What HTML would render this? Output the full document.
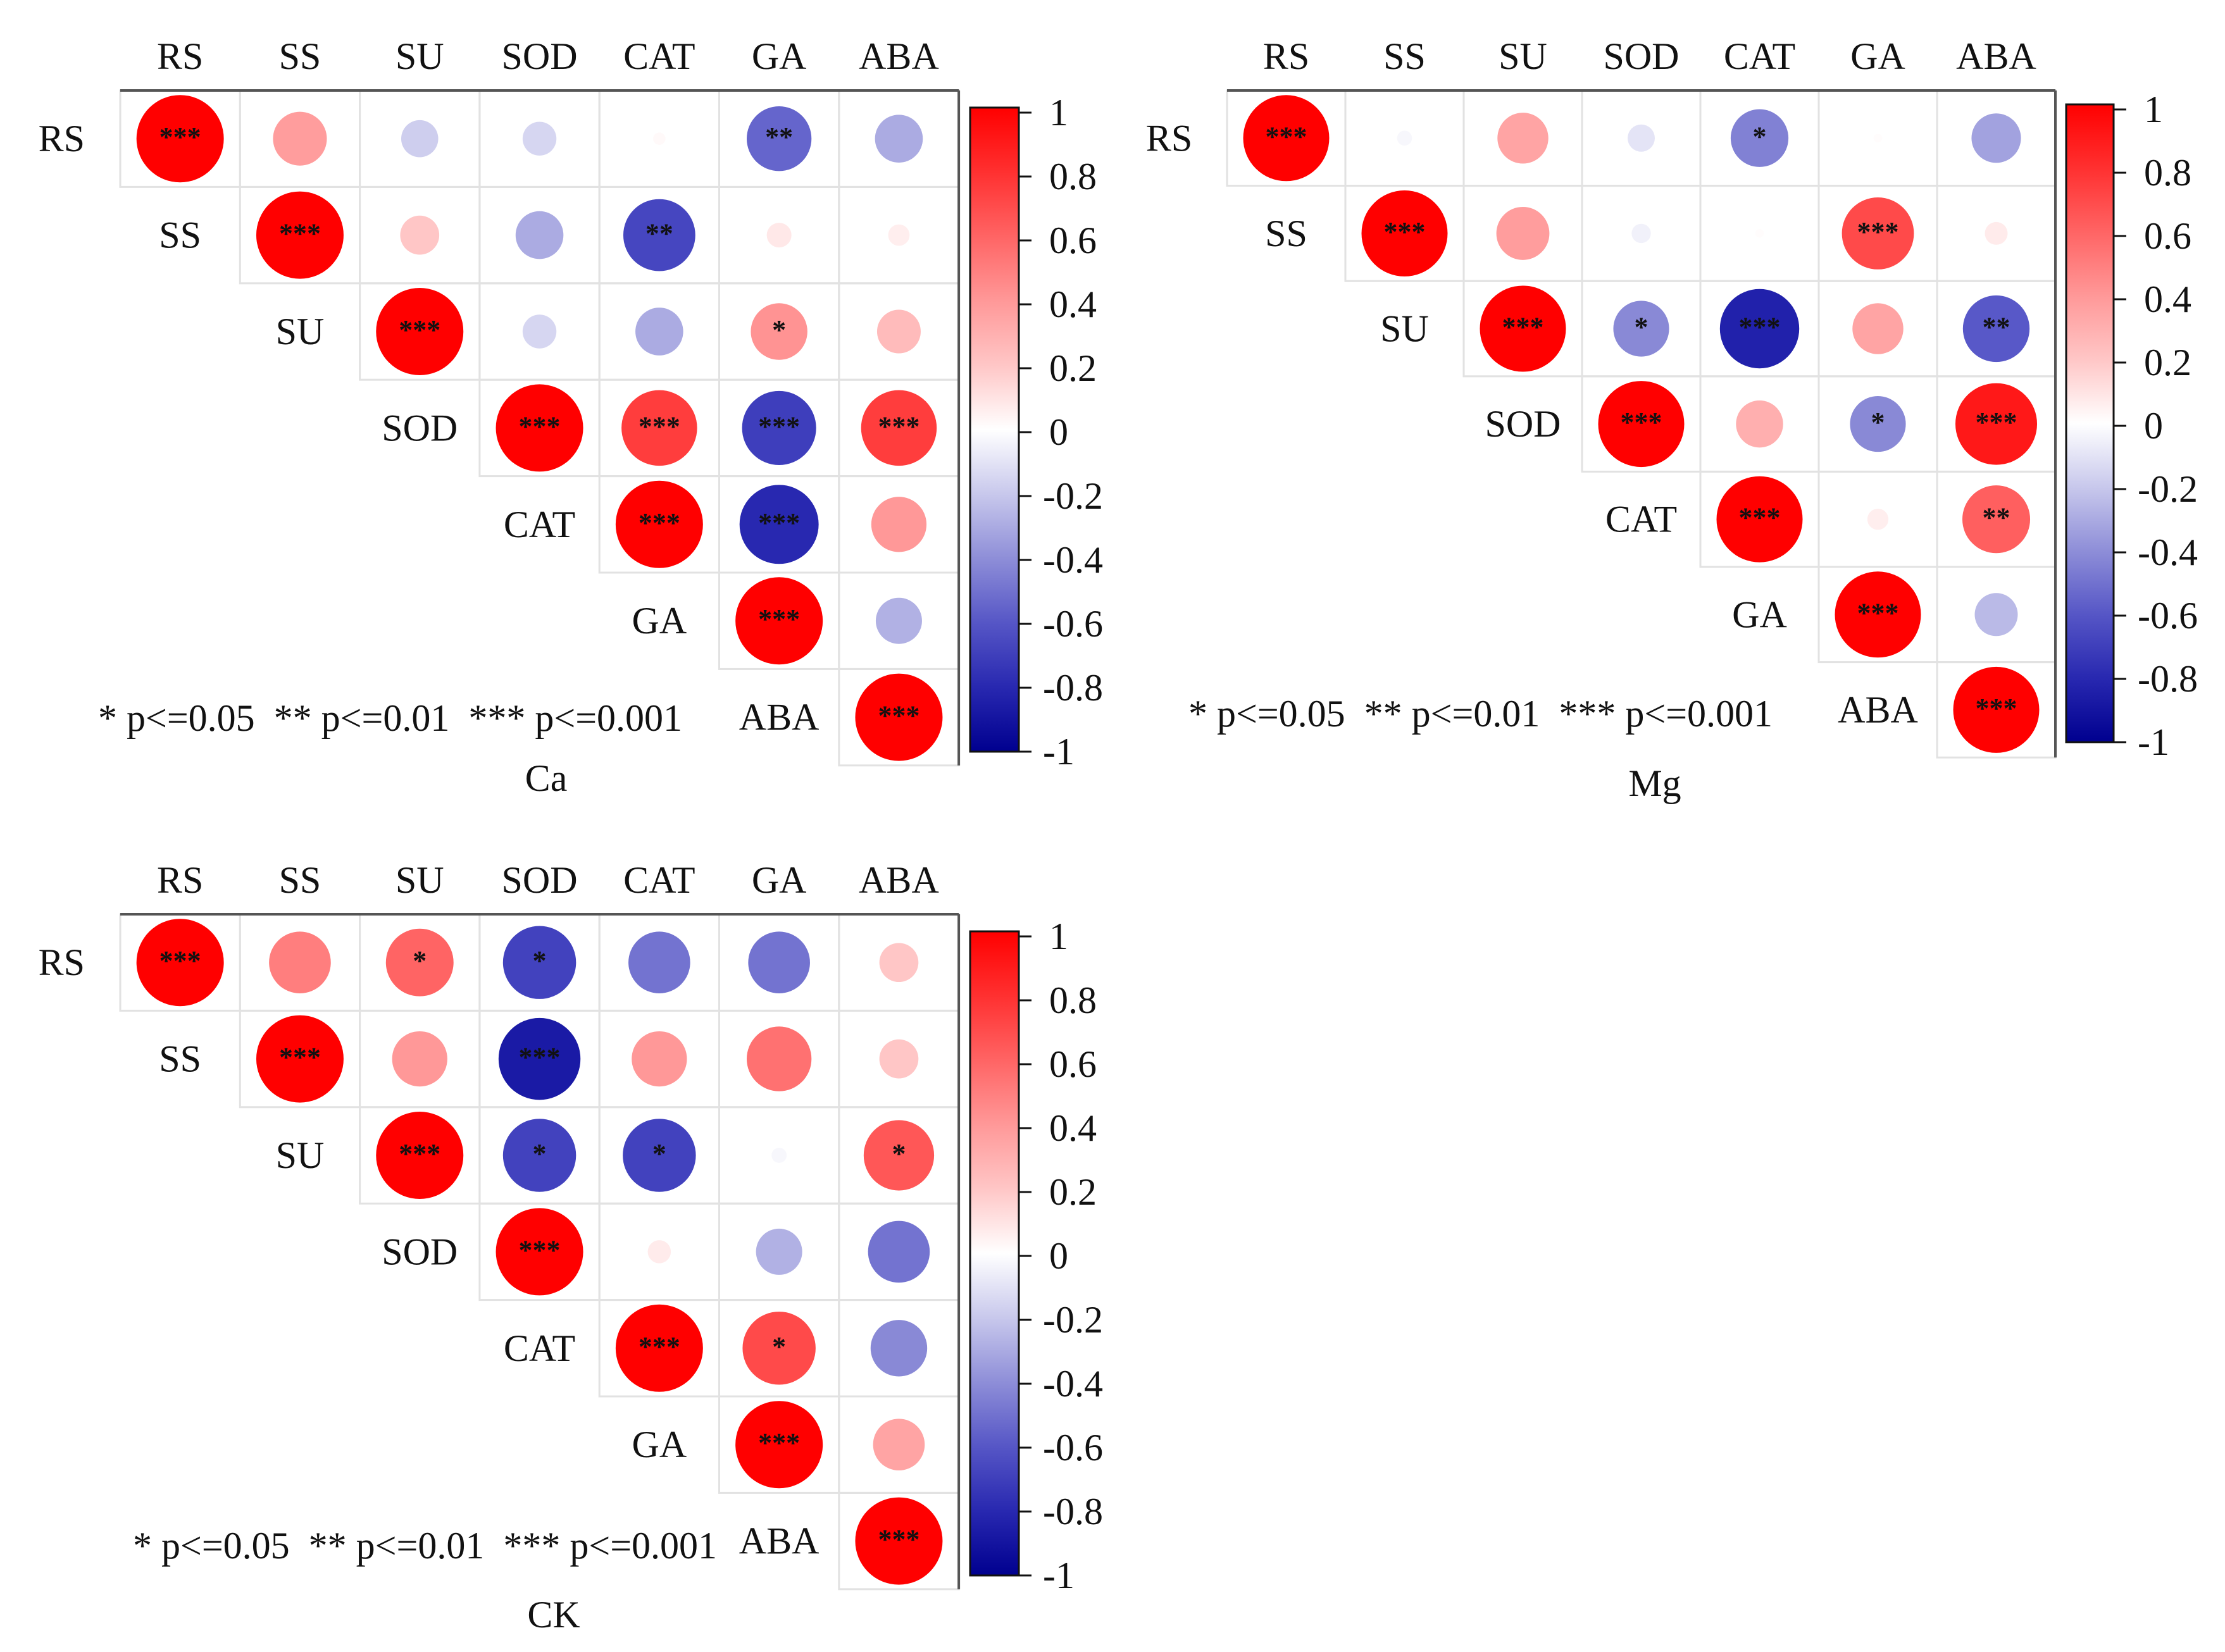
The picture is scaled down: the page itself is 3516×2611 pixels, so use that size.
<!DOCTYPE html>
<html><head><meta charset="utf-8"><style>
html,body{margin:0;padding:0;background:#fff}
svg{display:block}
text{font-family:"Liberation Serif",serif;fill:#111;white-space:pre}
</style></head><body>
<svg id="fig" width="3516" height="2611" viewBox="0 0 3516 2611" xmlns="http://www.w3.org/2000/svg">
<defs>
<linearGradient id="cbar" x1="0" y1="1" x2="0" y2="0">
<stop offset="0" stop-color="#00008f"/><stop offset="0.1" stop-color="#2828b0"/><stop offset="0.2" stop-color="#5656c6"/><stop offset="0.3" stop-color="#8e8ed8"/><stop offset="0.4" stop-color="#c8c8ec"/><stop offset="0.5" stop-color="#ffffff"/><stop offset="0.6" stop-color="#ffc6c6"/><stop offset="0.7" stop-color="#ff9898"/><stop offset="0.8" stop-color="#ff6464"/><stop offset="0.9" stop-color="#ff3030"/><stop offset="1" stop-color="#ff0000"/>
</linearGradient>
</defs>
</svg>
<script>
const labels = ["RS","SS","SU","SOD","CAT","GA","ABA"];
// upper triangle values (row-major, j>i)
const caValues = [0.38,-0.18,-0.15,0.02,-0.55,-0.30, 0.20,-0.30,-0.68,0.08,0.06, -0.15,-0.30,0.42,0.25, 0.75,-0.72,0.75, -0.82,0.40, -0.28];
const caSig    = ["","","","","**","", "","","**","","", "","","*","", "***","***","***", "***","", ""];
const mgValues = [-0.03,0.35,-0.10,-0.45,0.01,-0.33, 0.38,-0.05,0.01,0.70,0.07, -0.42,-0.85,0.35,-0.60, 0.30,-0.42,0.90, 0.06,0.62, -0.25];
const mgSig    = ["","","","*","","", "","","","***","", "*","***","","**", "","*","***", "","**", ""];
const ckValues = [0.50,0.60,-0.70,-0.50,-0.50,0.20, 0.40,-0.88,0.40,0.55,0.20, -0.70,-0.70,-0.03,0.65, 0.07,-0.28,-0.50, 0.70,-0.42, 0.35];
const ckSig    = ["","*","*","","","", "","***","","","", "*","*","","*", "","","", "*","", ""];
const cbTicks  = [1,0.8,0.6,0.4,0.2,0,-0.2,-0.4,-0.6,-0.8,-1];

const NS="http://www.w3.org/2000/svg";
const svg=document.getElementById('fig');
function mk(tag,attrs,parent){const e=document.createElementNS(NS,tag);for(const k in attrs)e.setAttribute(k,attrs[k]);(parent||svg).appendChild(e);return e;}
const stops=[[-1,[0,0,143]],[-0.8,[44,44,180]],[-0.6,[88,88,200]],[-0.4,[142,142,216]],[-0.2,[200,200,236]],[0,[255,255,255]],[0.2,[255,198,198]],[0.4,[255,152,152]],[0.6,[255,100,100]],[0.8,[255,48,48]],[1,[255,0,0]]];
function colorOf(v){for(let i=0;i<stops.length-1;i++){const a=stops[i],b=stops[i+1];if(v>=a[0]&&v<=b[0]){const t=(v-a[0])/(b[0]-a[0]);const c=a[1].map((x,k)=>Math.round(x+(b[1][k]-x)*t));return `rgb(${c.join(',')})`;}}return '#fff';}

function panel(cfg){
  const g=mk('g',{});
  
  
  const n=labels.length, cw=cfg.cw, ch=cfg.ch, L=cfg.left, T=cfg.top;
  const xc=j=>L+cw*(j+0.5), yc=i=>T+ch*(i+0.5);
  let k=0;
  for(let i=0;i<n;i++){for(let j=i;j<n;j++){
    const v = (i===j)?1:cfg.values[k];
    const s = (i===j)?"***":cfg.sig[k];
    if(i!==j)k++;
    const cell=mk('rect',{x:L+cw*j,y:T+ch*i,width:cw,height:ch,fill:'none',stroke:'#e2e2e2','stroke-width':3},g);
    
    
    const r=cfg.maxR*Math.sqrt(Math.abs(v));
    const c=mk('circle',{cx:xc(j),cy:yc(i),r:r,fill:colorOf(v)},g);
    
    
    if(s){const t=mk('text',{x:xc(j),y:yc(i)+12,'text-anchor':'middle','font-size':44,'font-weight':'bold','font-family':'"Liberation Sans",sans-serif'},g);t.textContent=s;
      
      }
  }}
  for(let j=0;j<n;j++){const t=mk('text',{x:xc(j),y:T-34,'text-anchor':'middle','font-size':60},g);t.textContent=labels[j];
    
    }
  for(let i=0;i<n;i++){const t=mk('text',{x:xc(i-1)+(i===0?2:0),y:yc(i)+20,'text-anchor':'middle','font-size':60},g);t.textContent=labels[i];
    
    }
  const b1=mk('line',{x1:L,y1:T,x2:L+cw*n,y2:T,stroke:'#555','stroke-width':4},g);
  
  
  const b2=mk('line',{x1:L+cw*n,y1:T,x2:L+cw*n,y2:T+ch*n,stroke:'#555','stroke-width':4},g);
  
  
  const yv=v=>cfg.cbBot-(v+1)/2*(cfg.cbBot-cfg.cbTop1);
  const cb=mk('rect',{x:cfg.cbX,y:yv(1)-8,width:cfg.cbW,height:cfg.cbBot-yv(1)+8,fill:'url(#cbar)',stroke:'#111','stroke-width':3},g);
  
  
  cbTicks.forEach(v=>{
    const tk=mk('line',{x1:cfg.cbX+cfg.cbW,y1:yv(v),x2:cfg.cbX+cfg.cbW+20,y2:yv(v),stroke:'#111','stroke-width':3},g);
    
    
    const t=mk('text',{x:cfg.cbX+cfg.cbW+(v<0?38:48),y:yv(v)+20,'font-size':60},g);t.textContent=String(v);
    
    
  });
  const lg=mk('text',{x:cfg.legX,y:cfg.legY,'font-size':60},g);
  lg.textContent='* p<=0.05  ** p<=0.01  *** p<=0.001';
  
  
  const ti=mk('text',{x:cfg.titleX,y:cfg.titleY,'text-anchor':'middle','font-size':60},g);ti.textContent=cfg.title;
  
  
}
panel({name:'ca',title:'Ca',values:caValues,sig:caSig,left:190,top:143,cw:189.3,ch:152.4,maxR:69,cbX:1533,cbW:77,cbTop1:178,cbBot:1188,legX:155,legY:1155,titleX:863,titleY:1250});
panel({name:'mg',title:'Mg',values:mgValues,sig:mgSig,left:1939,top:143,cw:187,ch:150.6,maxR:68,cbX:3265,cbW:75,cbTop1:173,cbBot:1173,legX:1878,legY:1148,titleX:2615,titleY:1258});
panel({name:'ck',title:'CK',values:ckValues,sig:ckSig,left:190,top:1445,cw:189.3,ch:152.4,maxR:69,cbX:1533,cbW:77,cbTop1:1480,cbBot:2490,legX:210,legY:2463,titleX:875,titleY:2572});
</script>
</body></html>
